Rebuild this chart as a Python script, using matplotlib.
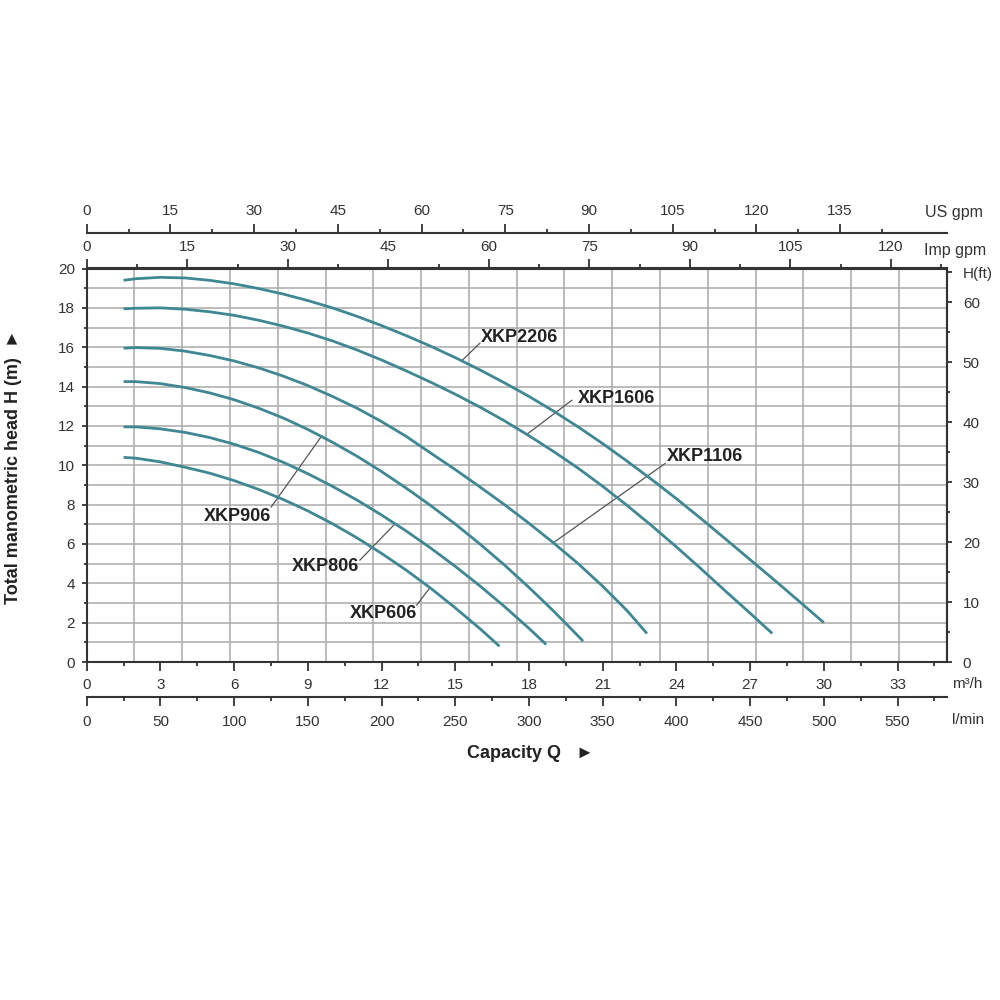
import numpy as np
import matplotlib.pyplot as plt

plt.rcParams['font.family'] = ['Liberation Sans', 'DejaVu Sans']

# capacity Q (m3/h) and head H (m)
q_2206 = [1.5, 2, 3, 4, 5, 6, 7, 8, 9, 10, 11, 12, 13, 14, 15, 16, 17, 18, 19, 20,
          21, 22, 23, 24, 25, 26, 27, 28, 29, 30]
h_2206 = [19.40, 19.48, 19.55, 19.52, 19.40, 19.22, 18.98, 18.70, 18.37, 18.00,
          17.57, 17.10, 16.59, 16.05, 15.47, 14.85, 14.19, 13.50, 12.75, 11.95,
          11.10, 10.20, 9.27, 8.30, 7.29, 6.25, 5.20, 4.15, 3.08, 2.00]
q_1606 = [1.5, 2, 3, 4, 5, 6, 7, 8, 9, 10, 11, 12, 13, 14, 15, 16, 17, 18, 19, 20,
          21, 22, 23, 24, 25, 26, 27, 27.9]
h_1606 = [17.95, 17.98, 18.00, 17.93, 17.80, 17.62, 17.37, 17.07, 16.72, 16.32,
          15.86, 15.35, 14.80, 14.22, 13.61, 12.96, 12.26, 11.50, 10.70, 9.85,
          8.93, 7.95, 6.92, 5.85, 4.74, 3.60, 2.48, 1.45]
q_1106 = [1.5, 2, 3, 4, 5, 6, 7, 8, 9, 10, 11, 12, 13, 14, 15, 16, 17, 18, 19, 20,
          21, 22, 22.8]
h_1106 = [15.95, 15.98, 15.94, 15.80, 15.58, 15.30, 14.95, 14.53, 14.05, 13.50,
          12.90, 12.22, 11.47, 10.62, 9.78, 8.90, 8.00, 7.05, 6.05, 5.00,
          3.85, 2.60, 1.45]
q_906 = [1.5, 2, 3, 4, 5, 6, 7, 8, 9, 10, 11, 12, 13, 14, 15, 16, 17, 18, 19, 20, 20.2]
h_906 = [14.25, 14.25, 14.15, 13.95, 13.68, 13.33, 12.90, 12.40, 11.82, 11.17,
         10.46, 9.68, 8.84, 7.95, 7.01, 6.00, 4.93, 3.79, 2.59, 1.32, 1.06]
q_806 = [1.5, 2, 3, 4, 5, 6, 7, 8, 9, 10, 11, 12, 13, 14, 15, 16, 17, 18, 18.7]
h_806 = [11.95, 11.95, 11.85, 11.67, 11.41, 11.07, 10.65, 10.15, 9.57, 8.93,
         8.23, 7.47, 6.66, 5.79, 4.86, 3.87, 2.82, 1.71, 0.89]
q_606 = [1.5, 2, 3, 4, 5, 6, 7, 8, 9, 10, 11, 12, 13, 14, 15, 16, 16.8]
h_606 = [10.40, 10.36, 10.17, 9.90, 9.60, 9.22, 8.77, 8.26, 7.68, 7.03,
         6.31, 5.52, 4.67, 3.75, 2.75, 1.70, 0.80]

curves = [(q_2206, h_2206), (q_1606, h_1606), (q_1106, h_1106),
          (q_906, h_906), (q_806, h_806), (q_606, h_606)]
names = ['XKP2206', 'XKP1606', 'XKP1106', 'XKP906', 'XKP806', 'XKP606']

# label placement: leader start on curve (Q), leader end, text anchor
lead_q = [15.26, 17.91, 18.99, 9.55, 12.55, 13.97]
lead_end = [(16.0, 16.2), (19.74, 13.3), (23.54, 10.09), (7.51, 7.88), (11.12, 5.18), (13.43, 2.89)]
text_pos = [(16.05, 16.5), (19.97, 13.4), (23.6, 10.42), (7.5, 7.38), (11.1, 4.87), (13.45, 2.44)]
text_ha = ['left', 'left', 'left', 'right', 'right', 'right']

line_c = '#3f8793'
grid_c = '#a9a9a9'
ax_c = '#333333'

fig = plt.figure(figsize=(10, 10), dpi=100)
ax = fig.add_axes([0.0867, 0.338, 0.86, 0.3935])
ax.set_xlim(0, 35)
ax.set_ylim(0, 20)

# grid: 18 columns, 1 m rows
for x in np.linspace(0, 35, 19)[1:-1]:
    ax.axvline(x, color=grid_c, lw=1.1, zorder=0)
for y in range(1, 20):
    ax.axhline(y, color=grid_c, lw=1.1, zorder=0)

for (q, h) in curves:
    ax.plot(q, h, color=line_c, lw=2, solid_capstyle='butt', solid_joinstyle='round', zorder=3)

for i, name in enumerate(names):
    q, h = curves[i]
    x0 = lead_q[i]
    y0 = np.interp(x0, q, h)
    ax.plot([x0, lead_end[i][0]], [y0, lead_end[i][1]], color='#555555', lw=0.9, zorder=2)
    ax.text(text_pos[i][0], text_pos[i][1], name, ha=text_ha[i], va='center',
            fontsize=13, fontweight='bold', color='#222222')

for s in ax.spines.values():
    s.set_color(ax_c)
    s.set_linewidth(1.5)

ax.set_xticks(np.arange(0, 34, 3))
ax.set_xticks(np.arange(0, 35, 1.5), minor=True)
ax.set_yticks(np.arange(0, 21, 2))
ax.set_yticks(np.arange(0, 21, 1), minor=True)
ax.tick_params(axis='x', which='major', length=6.5, width=1.3, color=ax_c, labelsize=11, labelcolor=ax_c, pad=5)
ax.tick_params(axis='x', which='minor', length=3, width=1.3, color=ax_c)
ax.tick_params(axis='y', which='major', length=3.6, width=1.3, color=ax_c, labelsize=11, labelcolor=ax_c, pad=5)
ax.tick_params(axis='y', which='minor', length=2.2, width=1.3, color=ax_c)

# secondary flow scales
f_imp = 1000 / 60 / 4.54609
f_us = 1000 / 60 / 3.78541
f_lmin = 1000 / 60

imp = ax.secondary_xaxis('top', functions=(lambda x: x * f_imp, lambda x: x / f_imp))
us = ax.secondary_xaxis(1 + 35 / 393.5, functions=(lambda x: x * f_us, lambda x: x / f_us))
lmin = ax.secondary_xaxis(-35 / 393.5, functions=(lambda x: x * f_lmin, lambda x: x / f_lmin))

imp.set_xticks(np.arange(0, 121, 15))
imp.set_xticks(np.arange(0, 128, 7.5), minor=True)
us.set_xticks(np.arange(0, 136, 15))
us.set_xticks(np.arange(0, 143, 7.5), minor=True)
lmin.set_xticks(np.arange(0, 551, 50))
lmin.set_xticks(np.arange(0, 576, 25), minor=True)

for sec, pad in ((imp, 3.6), (us, 4.3), (lmin, 6.5)):
    sec.tick_params(which='major', length=6.5, width=1.3, color=ax_c, labelsize=11, labelcolor=ax_c, pad=pad)
    sec.tick_params(which='minor', length=3, width=1.3, color=ax_c)
    for s in sec.spines.values():
        s.set_color(ax_c)
        s.set_linewidth(1.5)

# head in feet on the right
ax2 = ax.twinx()
ax2.set_ylim(0, 20 / 0.3048)
ax2.set_yticks(list(range(0, 61, 10)) + [65])
ax2.set_yticklabels([str(v) for v in range(0, 61, 10)] + ['H(ft)'])
ax2.set_yticks(np.arange(5, 60, 10), minor=True)
ax2.tick_params(axis='y', which='major', length=3.6, width=1.3, color=ax_c, labelsize=11, labelcolor=ax_c, pad=8)
ax2.tick_params(axis='y', which='minor', length=2.2, width=1.3, color=ax_c)
for k in ('top', 'bottom', 'left'):
    ax2.spines[k].set_visible(False)
ax2.spines['right'].set_color(ax_c)
ax2.spines['right'].set_linewidth(1.5)

# unit labels
fig.text(0.925, 0.788, 'US gpm', ha='left', va='center', fontsize=11.5, color=ax_c)
fig.text(0.924, 0.750, 'Imp gpm', ha='left', va='center', fontsize=11.5, color=ax_c)
fig.text(0.952, 0.316, 'm³/h', ha='left', va='center', fontsize=11, color=ax_c)
fig.text(0.952, 0.280, 'l/min', ha='left', va='center', fontsize=11, color=ax_c)

fig.text(0.53, 0.247, 'Capacity Q   ►', ha='center', va='center', fontsize=13, fontweight='bold', color='#222222')
fig.text(0.014, 0.533, 'Total manometric head H (m)  ►', rotation=90, ha='center', va='center',
         fontsize=13, fontweight='bold', color='#222222')

fig.savefig('out.png', dpi=100, facecolor='white')
